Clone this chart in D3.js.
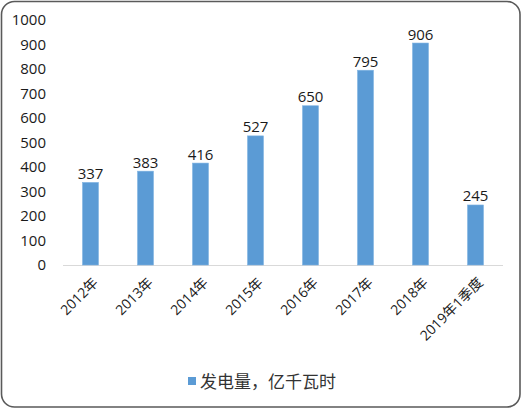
<!DOCTYPE html>
<html><head><meta charset="utf-8">
<script src="https://cdn.jsdelivr.net/npm/d3@7"></script>
<style>
html,body{margin:0;padding:0;background:#fff;}
svg{display:block;}
</style></head>
<body>
<script>
const categories = ["2012年","2013年","2014年","2015年","2016年","2017年","2018年","2019年1季度"];
const values = [337,383,416,527,650,795,906,245];
const yTicks = [0,100,200,300,400,500,600,700,800,900,1000];
const seriesName = "发电量，亿千瓦时";

const W = 522, H = 409;
const svg = d3.select("body").append("svg").attr("width", W).attr("height", H);
const font = "'Open Sans','Noto Sans CJK SC',sans-serif";

svg.append("rect").attr("x",1.5).attr("y",1.5).attr("width",W-3.5).attr("height",H-3.5)
  .attr("rx",13).attr("ry",13).attr("fill","#fff").attr("stroke","#5a5a5a").attr("stroke-width",1.6);

const x = d3.scaleBand().domain(categories).range([63,503]).paddingInner(0.71).paddingOuter(0.355);
const y = d3.scaleLinear().domain([0,1000]).range([265,20]);

// y axis labels
svg.append("g").selectAll("text").data(yTicks).join("text")
  .attr("x",46).attr("y",d=>y(d)).attr("dy","0.36em").attr("text-anchor","end")
  .attr("font-family",font).attr("font-size",15).attr("fill","#1a1a1a").text(d=>d);

// axis line
svg.append("line").attr("x1",63).attr("x2",503).attr("y1",y(0)+0.5).attr("y2",y(0)+0.5)
  .attr("stroke","#d9d9d9").attr("stroke-width",1);

// bars
svg.append("g").selectAll("rect").data(values).join("rect")
  .attr("x",(d,i)=>x(categories[i])).attr("width",x.bandwidth())
  .attr("y",d=>y(d)).attr("height",d=>y(0)-y(d))
  .attr("fill","#5b9bd5").attr("stroke","#7fb3e2").attr("stroke-width",0.6);

// data labels
svg.append("g").selectAll("text").data(values).join("text")
  .attr("x",(d,i)=>x(categories[i])+x.bandwidth()/2).attr("y",d=>y(d)-3.5)
  .attr("text-anchor","middle").attr("font-family",font).attr("font-size",15).attr("fill","#1a1a1a").text(d=>d);

// category labels
svg.append("g").selectAll("text").data(categories).join("text")
  .attr("transform",d=>`translate(${x(d)+x.bandwidth()/2+5},${y(0)+15}) rotate(-45)`)
  .attr("text-anchor","end").attr("dy","0.35em")
  .attr("font-family",font).attr("font-size",14).attr("fill","#1a1a1a").text(d=>d);

// legend
svg.append("rect").attr("x",188).attr("y",377).attr("width",8).attr("height",8).attr("fill","#5b9bd5");
svg.append("text").attr("x",200).attr("y",388).attr("font-family","'Noto Sans CJK SC',sans-serif")
  .attr("font-size",17).attr("fill","#333").text(seriesName);
</script>
</body></html>
